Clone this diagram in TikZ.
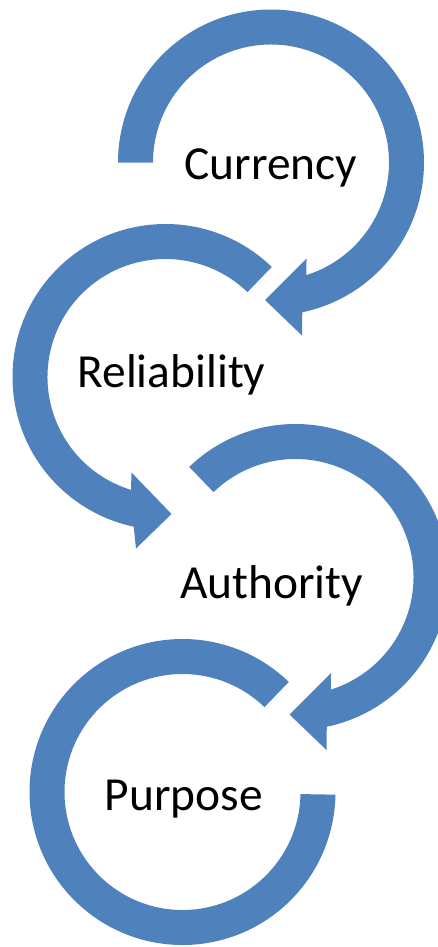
\documentclass[tikz,border=0pt]{standalone}
\usepackage{fontspec}
\setmainfont{Carlito}
\definecolor{arrowblue}{RGB}{79,129,189}
\begin{document}
\begin{tikzpicture}[x=0.02cm,y=0.02cm,
  ring/.style={fill=arrowblue,draw=none},
  lbl/.style={font=\fontsize{27pt}{30pt}\selectfont,text=black,anchor=base,inner sep=0pt}]
\useasboundingbox (0,0) rectangle (438,-947);
% Currency ring (clockwise, arrow at bottom)
\begin{scope}[shift={(271,-162.5)}]
  \fill[ring] (180:153) arc[start angle=180,end angle=-78.2,radius=153]
    -- (31,-173) -- (-6,-137.5) -- (35.5,-96) -- (-72.5:118)
    arc[start angle=-72.5,end angle=180,radius=118] -- cycle;
\end{scope}
% Reliability ring (counter-clockwise, arrow at bottom)
\begin{scope}[shift={(165.5,-377)}]
  \fill[ring] (46:153) arc[start angle=46,end angle=258,radius=153]
    -- (-29.5,-171.5) -- (6,-137) -- (-34,-95.5) -- (253:118)
    arc[start angle=253,end angle=46,radius=118] -- cycle;
\end{scope}
% Authority ring (clockwise, arrow at bottom)
\begin{scope}[shift={(295.5,-577)}]
  \fill[ring] (134:153) arc[start angle=134,end angle=-78.2,radius=153]
    -- (31,-173) -- (-6,-137.5) -- (35.5,-96) -- (-72.5:118)
    arc[start angle=-72.5,end angle=134,radius=118] -- cycle;
\end{scope}
% Purpose ring (no arrow)
\begin{scope}[shift={(182.5,-792)}]
  \fill[ring] (46:153) arc[start angle=46,end angle=359,radius=153]
    -- (359:118) arc[start angle=359,end angle=46,radius=118] -- cycle;
\end{scope}
\node[lbl] (currency) at (271,-179.3) {Currency};
\node[lbl] (reliability) at (171.5,-387.3) {Reliability};
\node[lbl] (authority) at (271.7,-598) {Authority};
\node[lbl] (purpose) at (184,-810) {Purpose};
\end{tikzpicture}
\end{document}
